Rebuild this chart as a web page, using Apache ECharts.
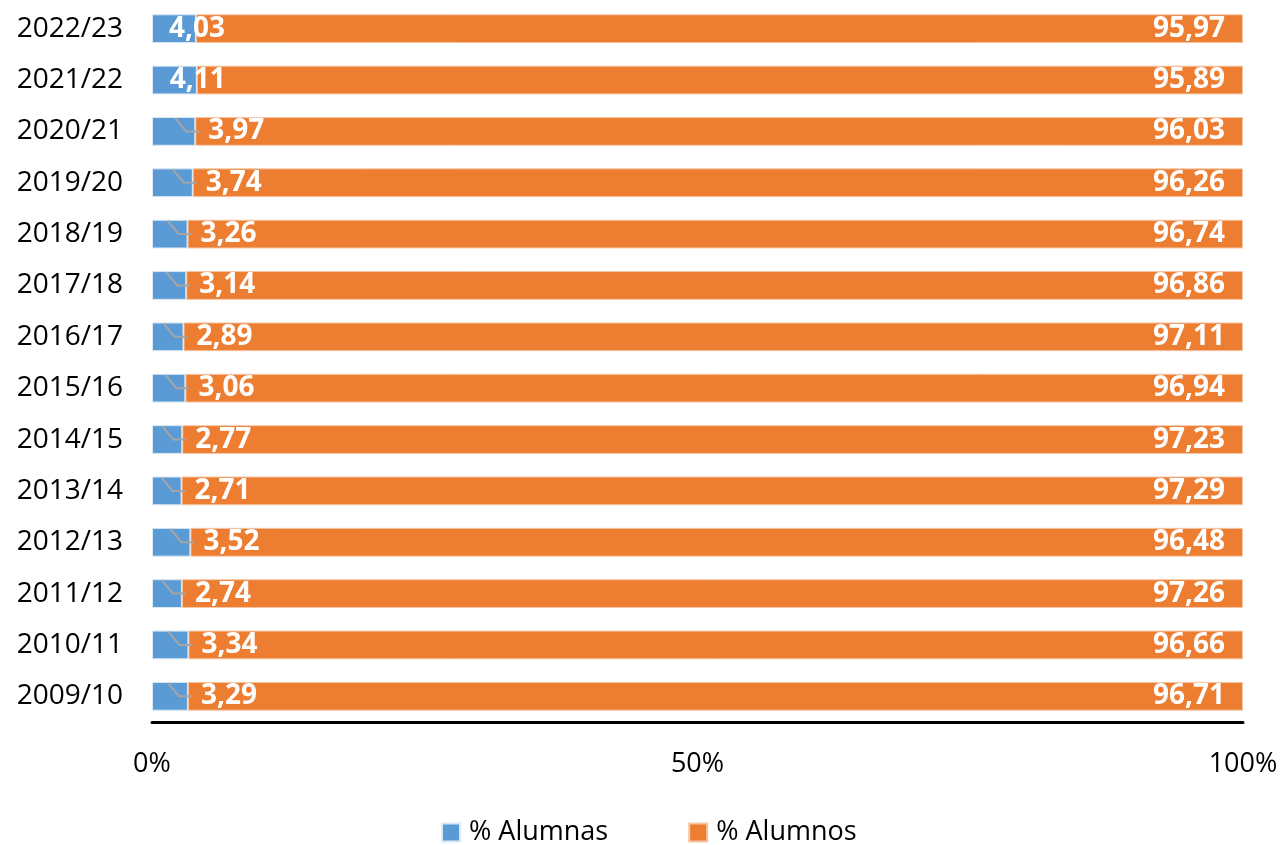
<!DOCTYPE html>
<html>
<head>
<meta charset="utf-8">
<script src="https://cdn.jsdelivr.net/npm/echarts@6/dist/echarts.min.js"></script>
<style>
	html, body { margin: 0; padding: 0; background: #fff; }
	#chart { width: 1281px; height: 845px; }
</style>
</head>
<body>
<div id="chart"></div>
<script>
var cursos = ["2009/10", "2010/11", "2011/12", "2012/13", "2013/14", "2014/15", "2015/16", "2016/17", "2017/18", "2018/19", "2019/20", "2020/21", "2021/22", "2022/23"];
var alumnas = [3.29, 3.34, 2.74, 3.52, 2.71, 2.77, 3.06, 2.89, 3.14, 3.26, 3.74, 3.97, 4.11, 4.03];
var alumnos = [96.71, 96.66, 97.26, 96.48, 97.29, 97.23, 96.94, 97.11, 96.86, 96.74, 96.26, 96.03, 95.89, 95.97];
var xTicks = [0, 50, 100];

var fuente = "'Open Sans', sans-serif";
var anchoBarra = 0.56;

function coma(v) {
	return v.toFixed(2).replace(".", ",");
}

// las dos ultimas etiquetas van encima del borde, el resto desplazadas con linea guia
var datosAlumnas = alumnas.map(function(v, i) {
	if(i >= 12) {
		return { value: v, label: { distance: -27 } };
	}
	return { value: v };
});

// lineas guia (solo para las etiquetas desplazadas)
var guias = [];
for(var i = 0; i < 12; i++) {
	guias.push([alumnas[i], i]);
}

var chart = echarts.init(document.getElementById("chart"));
chart.setOption({
	animation: false,
	textStyle: { fontFamily: fuente },
	grid: { left: 152, right: 38, top: 3, height: 719 },
	legend: {
		top: 814,
		left: 436,
		itemWidth: 18,
		itemHeight: 18,
		itemGap: 80,
		icon: "rect",
		textStyle: { fontSize: 27, color: "#000", fontFamily: fuente, padding: [0, 0, 0, 4] },
		data: ["% Alumnas", "% Alumnos"]
	},
	xAxis: {
		type: "value",
		min: xTicks[0],
		max: xTicks[xTicks.length - 1],
		interval: 50,
		splitLine: { show: false },
		axisTick: { show: false },
		axisLine: { show: true, lineStyle: { color: "#000", width: 3 } },
		axisLabel: { formatter: "{value}%", fontSize: 27, color: "#000", margin: 29, fontFamily: fuente }
	},
	yAxis: {
		type: "category",
		data: cursos,
		axisLine: { show: false },
		axisTick: { show: false },
		axisLabel: { fontSize: 28, color: "#000", margin: 29, fontFamily: fuente }
	},
	series: [{
		name: "% Alumnas",
		type: "bar",
		stack: "total",
		barWidth: (anchoBarra * 100) + "%",
		data: datosAlumnas,
		itemStyle: { color: "#5B9BD5", borderColor: "#dbe8f5", borderWidth: 1 },
		label: {
			show: true,
			position: "right",
			distance: 13,
			color: "#fff",
			fontWeight: "bold",
			fontSize: 28,
			fontFamily: fuente,
			formatter: function(p) { return coma(p.value); }
		},
		z: 3
	}, {
		name: "% Alumnos",
		type: "bar",
		stack: "total",
		barWidth: (anchoBarra * 100) + "%",
		data: alumnos,
		itemStyle: { color: "#ED7D31", borderColor: "#f6c7a6", borderWidth: 1 },
		label: {
			show: true,
			position: "insideRight",
			distance: 18,
			color: "#fff",
			fontWeight: "bold",
			fontSize: 28,
			fontFamily: fuente,
			formatter: function(p) { return coma(p.value); }
		},
		z: 2
	}, {
		type: "custom",
		silent: true,
		z: 4,
		encode: { x: 0, y: 1 },
		data: guias,
		renderItem: function(params, api) {
			var fin = api.coord([api.value(0), api.value(1)]);
			var alto = api.size([0, 1])[1] * anchoBarra;
			return {
				type: "polyline",
				shape: {
					points: [
						[fin[0] - 20, fin[1] - alto / 2 + 1],
						[fin[0] - 9, fin[1]],
						[fin[0] + 4, fin[1]]
					]
				},
				style: { stroke: "#a5a5a5", lineWidth: 2, fill: null }
			};
		}
	}]
});
</script>
</body>
</html>
